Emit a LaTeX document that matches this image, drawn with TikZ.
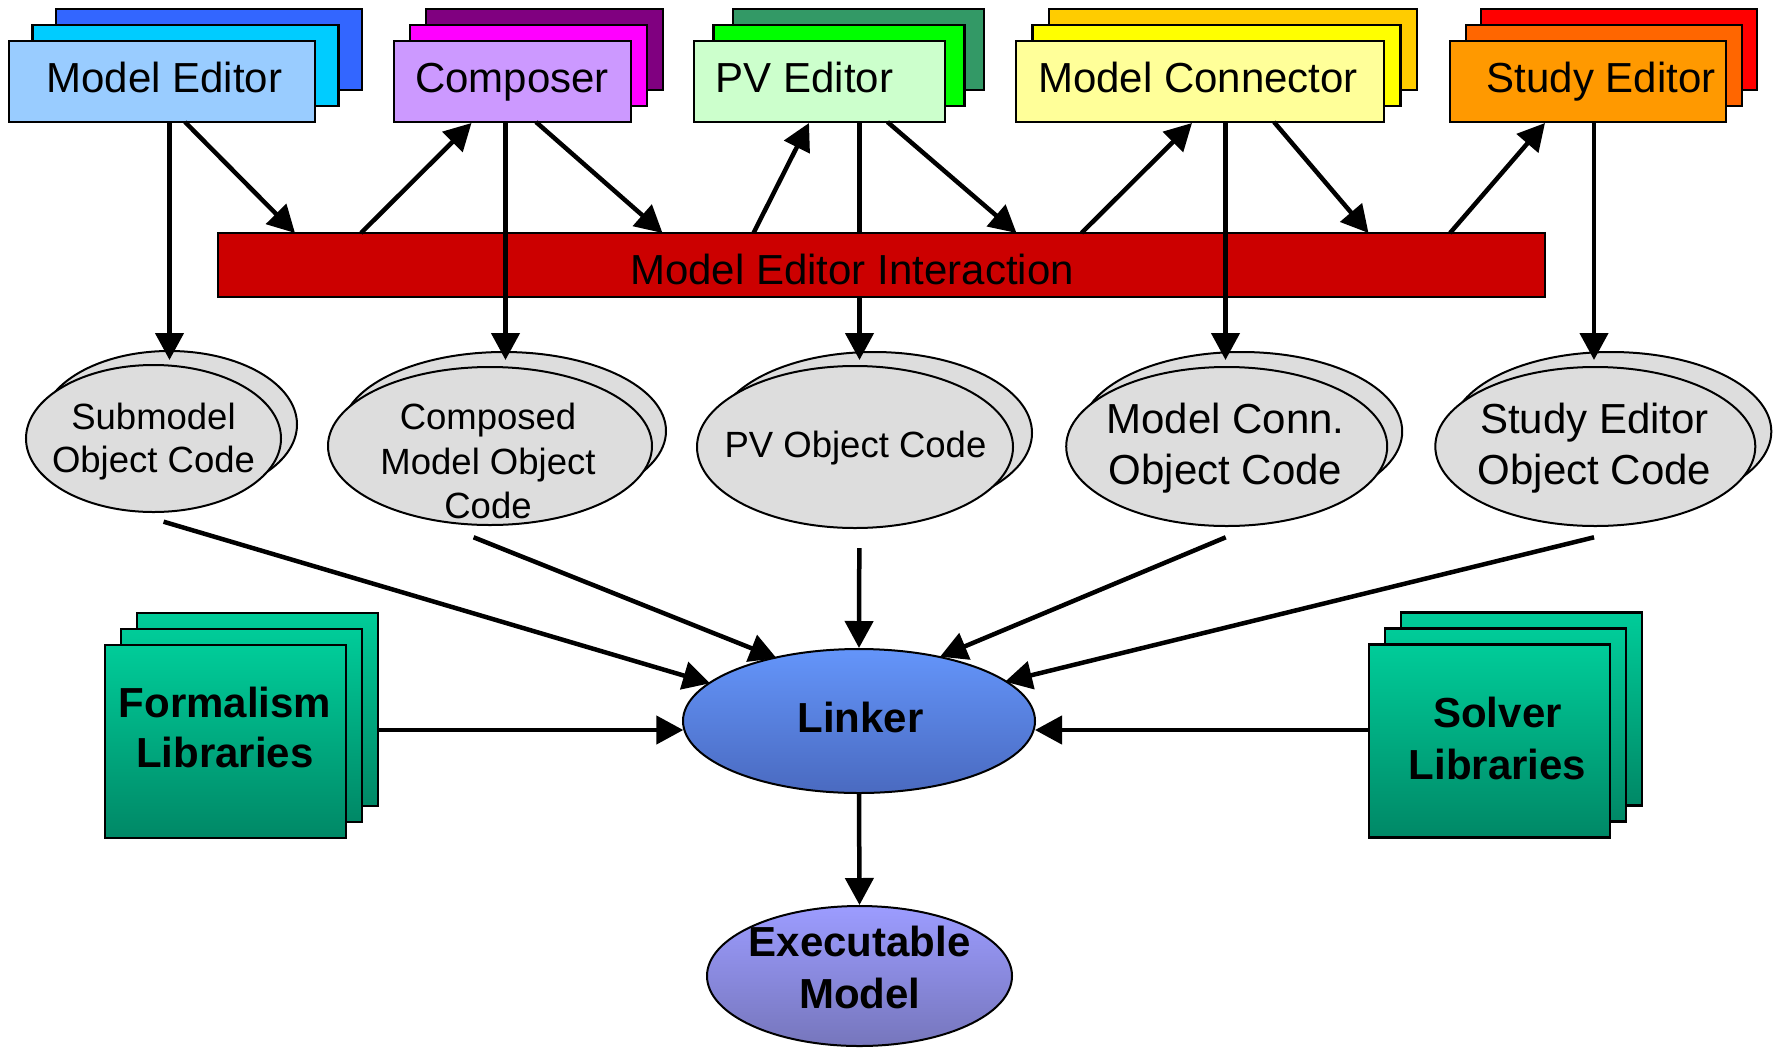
\documentclass[tikz,border=0pt]{standalone}
\usepackage{fontspec}
\setmainfont{Liberation Sans}
\usetikzlibrary{arrows.meta,shapes.geometric}

% layer colours of the editor stacks
\definecolor{meA}{HTML}{99CCFF}\definecolor{meB}{HTML}{00CCFF}\definecolor{meC}{HTML}{3366FF}
\definecolor{coA}{HTML}{CC99FF}\definecolor{coB}{HTML}{FF00FF}\definecolor{coC}{HTML}{800080}
\definecolor{pvA}{HTML}{CCFFCC}\definecolor{pvB}{HTML}{00FF00}\definecolor{pvC}{HTML}{339966}
\definecolor{mcA}{HTML}{FFFF99}\definecolor{mcB}{HTML}{FFFF00}\definecolor{mcC}{HTML}{FFCC00}
\definecolor{seA}{HTML}{FF9900}\definecolor{seB}{HTML}{FF6600}\definecolor{seC}{HTML}{FF0000}
\definecolor{barred}{HTML}{CC0000}
\definecolor{objgray}{HTML}{DDDDDD}
\definecolor{libtop}{HTML}{00CC99}\definecolor{libbot}{HTML}{008866}
\definecolor{lktop}{HTML}{6495FA}\definecolor{lkbot}{HTML}{4A6AC0}
\definecolor{extop}{HTML}{9C9CFF}\definecolor{exbot}{HTML}{7676BC}

\begin{document}
\begin{tikzpicture}[x=1pt,y=-1pt,
  blk/.style={rectangle, draw=black, line width=2.5pt, inner sep=0pt},
  edbox/.style={blk, minimum height=81pt},
  libbox/.style={blk, minimum width=241pt, minimum height=193pt,
                 top color=libtop, bottom color=libbot},
  obj/.style={ellipse, draw=black, line width=2pt, fill=objgray, inner sep=0pt},
  bigtxt/.style={font=\fontsize{42}{50}\selectfont, inner sep=0pt},
  smalltxt/.style={inner sep=0pt, align=center},
  boldtxt/.style={inner sep=0pt, align=center},
  arr/.style={line width=4.5pt, -{Triangle[length=27pt,width=28pt]}},
]
\fill[white] (0,0) rectangle (1779,1047);
\useasboundingbox (0,0) rectangle (1779,1047);

% ---------------- editor stacks ----------------
\node[edbox, minimum width=306pt, fill=meC] (meC) at (209,49.5) {};
\node[edbox, minimum width=306pt, fill=meB] (meB) at (185.5,65.5) {};
\node[edbox, minimum width=306pt, fill=meA] (me)  at (162,81.5) {};
\node[bigtxt, anchor=base] (meT) at (164.5,92.7) {Model Editor};

\node[edbox, minimum width=237pt, fill=coC] (coC) at (544.5,49.5) {};
\node[edbox, minimum width=237pt, fill=coB] (coB) at (528.5,65.5) {};
\node[edbox, minimum width=237pt, fill=coA] (co)  at (512.5,81.5) {};
\node[bigtxt, anchor=base] (coT) at (512,92.7) {Composer};

\node[edbox, minimum width=251pt, fill=pvC] (pvC) at (858.5,49.5) {};
\node[edbox, minimum width=251pt, fill=pvB] (pvB) at (839,65.5) {};
\node[edbox, minimum width=251pt, fill=pvA] (pv)  at (819.5,81.5) {};
\node[bigtxt, anchor=base] (pvT) at (804.5,92.7) {PV Editor};

\node[edbox, minimum width=368pt, fill=mcC] (mcC) at (1233,49.5) {};
\node[edbox, minimum width=368pt, fill=mcB] (mcB) at (1216.5,65.5) {};
\node[edbox, minimum width=368pt, fill=mcA] (mc)  at (1200,81.5) {};
\node[bigtxt, anchor=base] (mcT) at (1198,92.7) {Model Connector};

\node[edbox, minimum width=276pt, fill=seC] (seC) at (1619,49.5) {};
\node[edbox, minimum width=276pt, fill=seB] (seB) at (1604,65.5) {};
\node[edbox, minimum width=276pt, fill=seA] (se)  at (1588,81.5) {};
\node[bigtxt, anchor=base] (seT) at (1601,92.7) {Study Editor};

% ---------------- object code ellipses ----------------
\node[obj, minimum width=255pt, minimum height=147pt] (smB) at (169.5,424.5) {};
\node[obj, minimum width=255pt, minimum height=147pt] (sm)  at (153.5,438.5) {};
\node[smalltxt, font=\fontsize{36.5}{43.5}\selectfont] (smT) at (153.5,441.5) {Submodel\\Object Code};

\node[obj, minimum width=324pt, minimum height=158pt] (cmB) at (504,431) {};
\node[obj, minimum width=324pt, minimum height=158pt] (cm)  at (490,446) {};
\node[smalltxt, font=\fontsize{36.5}{44.5}\selectfont] (cmT) at (488,461) {Composed\\Model Object\\Code};

\node[obj, minimum width=316pt, minimum height=162pt] (poB) at (874,433) {};
\node[obj, minimum width=316pt, minimum height=162pt] (po)  at (855,447) {};
\node[smalltxt, font=\fontsize{36.5}{44}\selectfont, anchor=base] (poT) at (855.5,457.5) {PV Object Code};

\node[obj, minimum width=321pt, minimum height=159pt] (moB) at (1241.7,431.5) {};
\node[obj, minimum width=321pt, minimum height=159pt] (mo)  at (1226.7,446.5) {};
\node[smalltxt, font=\fontsize{42}{51}\selectfont] (moT) at (1225.5,448.5) {Model Conn.\\Object Code};

\node[obj, minimum width=320pt, minimum height=159pt] (soB) at (1611.3,431.5) {};
\node[obj, minimum width=320pt, minimum height=159pt] (so)  at (1595.3,446.5) {};
\node[smalltxt, font=\fontsize{42}{51}\selectfont] (soT) at (1594.5,448.5) {Study Editor\\Object Code};

% arrow tips on the object code ellipses
\coordinate (smIn) at (169.5,360);
\coordinate (cmIn) at (505.5,360);
\coordinate (poIn) at (859.5,360);
\coordinate (moIn) at (1225.5,360);
\coordinate (soIn) at (1594,360);

% the PV line runs behind the interaction bar
\draw[arr] (pv.south -| poIn) -- (poIn);

% ---------------- interaction bar ----------------
\node[rectangle, draw=black, line width=2pt, fill=barred, inner sep=0pt,
      minimum width=1327pt, minimum height=64pt] (bar) at (881.5,265) {};
\node[bigtxt, anchor=base] (barT) at (852,284.3) {Model Editor Interaction};

% ---------------- editor outputs ----------------
\draw[arr] (me.south -| smIn) -- (smIn);
\draw[arr] (co.south -| cmIn) -- (cmIn);
\draw[arr] (mc.south -| moIn) -- (moIn);
\draw[arr] (se.south -| soIn) -- (soIn);

% ---------------- editors <-> interaction bar ----------------
\coordinate (meO) at (185,122);   \coordinate (barA) at (295,233);
\coordinate (barB) at (361,233);  \coordinate (coI) at (471.5,123);
\coordinate (coO) at (536,122);   \coordinate (barC) at (662.5,233);
\coordinate (barD) at (753.5,233);\coordinate (pvI) at (809,123);
\coordinate (pvO) at (887.5,122); \coordinate (barE) at (1016.5,233);
\coordinate (barF) at (1081.5,233);\coordinate (mcI) at (1192,123);
\coordinate (mcO) at (1274,122);  \coordinate (barG) at (1368.5,233);
\coordinate (barH) at (1450,233); \coordinate (seI) at (1545,123);

\draw[arr] (meO) -- (barA);
\draw[arr] (barB) -- (coI);
\draw[arr] (coO) -- (barC);
\draw[arr] (barD) -- (pvI);
\draw[arr] (pvO) -- (barE);
\draw[arr] (barF) -- (mcI);
\draw[arr] (mcO) -- (barG);
\draw[arr] (barH) -- (seI);

% ---------------- libraries ----------------
\node[libbox] (flC) at (257.5,709.5) {};
\node[libbox] (flB) at (241.5,725.5) {};
\node[libbox] (fl)  at (225.5,741.5) {};
\node[boldtxt, font=\fontsize{42}{50.4}\selectfont\bfseries] (flT) at (225,727.5) {Formalism\\Libraries};

\node[libbox] (slC) at (1521.5,709) {};
\node[libbox] (slB) at (1505.5,725) {};
\node[libbox] (sl)  at (1489.5,741) {};
\node[boldtxt, font=\fontsize{42}{52}\selectfont\bfseries] (slT) at (1497.5,738.7) {Solver\\Libraries};

% ---------------- linker and result ----------------
\node[ellipse, draw=black, line width=2pt, inner sep=0pt,
      minimum width=352pt, minimum height=144pt,
      top color=lktop, bottom color=lkbot] (lk) at (859,721) {};
\node[boldtxt, font=\fontsize{42}{50}\selectfont\bfseries, anchor=base] (lkT) at (860.5,732.7) {Linker};

\node[ellipse, draw=black, line width=2pt, inner sep=0pt,
      minimum width=305pt, minimum height=140pt,
      top color=extop, bottom color=exbot] (ex) at (859.5,976) {};
\node[boldtxt, font=\fontsize{42}{52}\selectfont\bfseries] (exT) at (859.7,967.2) {Executable\\Model};

% ---------------- object code -> linker ----------------
\coordinate (smO) at (163.6,521.7);  \coordinate (lkA) at (710,683.3);
\coordinate (cmO) at (473.6,537.3);  \coordinate (lkB) at (776.7,658.3);
\coordinate (poO) at (859.3,548);
\coordinate (moO) at (1225.7,537.3); \coordinate (lkD) at (940,656.7);
\coordinate (soO) at (1594,537.3);   \coordinate (lkE) at (1005,681.7);
\coordinate (lkL) at (683.3,730);    \coordinate (lkR) at (1035,730);

\draw[arr] (smO) -- (lkA);
\draw[arr] (cmO) -- (lkB);
\draw[arr] (poO) -- (lk.north);
\draw[arr] (moO) -- (lkD);
\draw[arr] (soO) -- (lkE);
\draw[arr] (flC.east |- lkL) -- (lkL);
\draw[arr] (sl.west |- lkR) -- (lkR);
\draw[arr] (lk.south) -- (ex.north);
\end{tikzpicture}
\end{document}
